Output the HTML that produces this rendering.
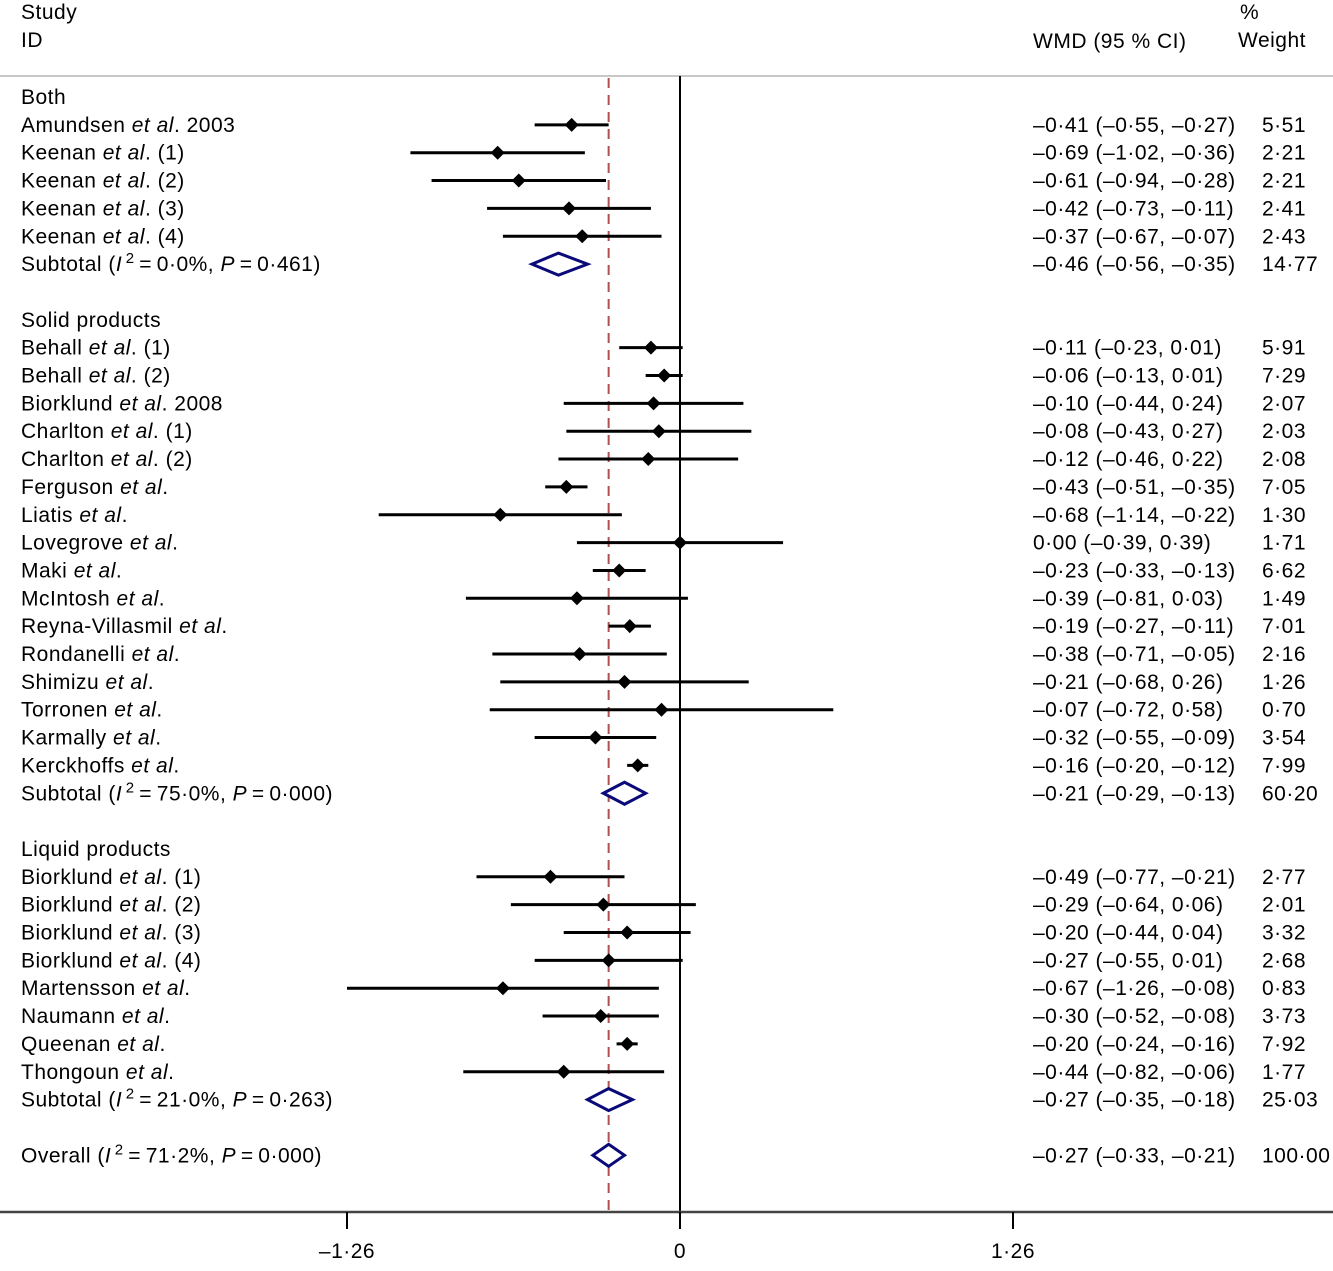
<!DOCTYPE html>
<html><head><meta charset="utf-8">
<style>
html,body{margin:0;padding:0;background:#fff;}
svg text{font-family:"Liberation Sans",Arial,sans-serif;font-size:21px;letter-spacing:0.5px;fill:#000;}
</style></head>
<body>
<svg id="chart" width="1333" height="1266" viewBox="0 0 1333 1266" xmlns="http://www.w3.org/2000/svg">
<text x="21" y="19">Study</text>
<text x="21" y="47">ID</text>
<text x="1033" y="48">WMD (95 % CI)</text>
<text x="1240" y="19">%</text>
<text x="1238" y="47">Weight</text>
<line x1="0" y1="76" x2="1333" y2="76" stroke="#c8c8c8" stroke-width="2"/>
<g id="plot"></g>
</svg>
<script>
const rowKinds = ['h','s','s','s','s','s','t','b','h','s','s','s','s','s','s','s','s','s','s','s','s','s','s','s','s','t','b','h','s','s','s','s','s','s','s','s','t','b','o'];
const labels = ['Both','Amundsen|2003','Keenan|(1)','Keenan|(2)','Keenan|(3)','Keenan|(4)','SUB|0·0%|0·461','',
'Solid products','Behall|(1)','Behall|(2)','Biorklund|2008','Charlton|(1)','Charlton|(2)','Ferguson|','Liatis|','Lovegrove|','Maki|','McIntosh|','Reyna-Villasmil|','Rondanelli|','Shimizu|','Torronen|','Karmally|','Kerckhoffs|','SUB|75·0%|0·000','',
'Liquid products','Biorklund|(1)','Biorklund|(2)','Biorklund|(3)','Biorklund|(4)','Martensson|','Naumann|','Queenan|','Thongoun|','SUB|21·0%|0·263','','OVR|71·2%|0·000'];
const estimates = [null,-0.41,-0.69,-0.61,-0.42,-0.37,-0.46,null,null,-0.11,-0.06,-0.10,-0.08,-0.12,-0.43,-0.68,0.00,-0.23,-0.39,-0.19,-0.38,-0.21,-0.07,-0.32,-0.16,-0.21,null,null,-0.49,-0.29,-0.20,-0.27,-0.67,-0.30,-0.20,-0.44,-0.27,null,-0.27];
const lowers = [null,-0.55,-1.02,-0.94,-0.73,-0.67,-0.56,null,null,-0.23,-0.13,-0.44,-0.43,-0.46,-0.51,-1.14,-0.39,-0.33,-0.81,-0.27,-0.71,-0.68,-0.72,-0.55,-0.20,-0.29,null,null,-0.77,-0.64,-0.44,-0.55,-1.26,-0.52,-0.24,-0.82,-0.35,null,-0.33];
const uppers = [null,-0.27,-0.36,-0.28,-0.11,-0.07,-0.35,null,null,0.01,0.01,0.24,0.27,0.22,-0.35,-0.22,0.39,-0.13,0.03,-0.11,-0.05,0.26,0.58,-0.09,-0.12,-0.13,null,null,-0.21,0.06,0.04,0.01,-0.08,-0.08,-0.16,-0.06,-0.18,null,-0.21];
const weights = [null,'5·51','2·21','2·21','2·41','2·43','14·77',null,null,'5·91','7·29','2·07','2·03','2·08','7·05','1·30','1·71','6·62','1·49','7·01','2·16','1·26','0·70','3·54','7·99','60·20',null,null,'2·77','2·01','3·32','2·68','0·83','3·73','7·92','1·77','25·03',null,'100·00'];
const tickValues = [-1.26, 0, 1.26];
const tickLabels = ['–1·26','0','1·26'];
const overallRef = -0.27;

const NS='http://www.w3.org/2000/svg';
const g=document.getElementById('plot');
const x = v => 680 + v*(333/1.26);
const y = i => 97 + i*27.85;
function mk(tag, attrs, parent){const e=document.createElementNS(NS,tag);for(const k in attrs)e.setAttribute(k,attrs[k]);(parent||g).appendChild(e);return e;}
function fmt(v){const s=Math.abs(v).toFixed(2).replace('.','·');return (v<0?'–':'')+s;}
function tspan(t,txt,italic,extra){const s=document.createElementNS(NS,'tspan');if(italic)s.setAttribute('font-style','italic');if(extra)for(const k in extra)s.setAttribute(k,extra[k]);s.textContent=txt;t.appendChild(s);return s;}

const zl=mk('line',{x1:x(0),y1:76,x2:x(0),y2:1212,stroke:'#000','stroke-width':2});


const dl=mk('line',{x1:x(overallRef),y1:78,x2:x(overallRef),y2:1212,stroke:'#b05050','stroke-width':2,'stroke-dasharray':'10 7'});


const ax=mk('line',{x1:0,y1:1212,x2:1333,y2:1212,stroke:'#444','stroke-width':2.5});


tickValues.forEach((v,i)=>{
  const tk=mk('line',{x1:x(v),y1:1212,x2:x(v),y2:1229,stroke:'#000','stroke-width':2});
  
  
  const tl=mk('text',{x:x(v),y:1258,'text-anchor':'middle'});
  tl.textContent=tickLabels[i];
  
  
});

rowKinds.forEach((k,i)=>{
  if(k==='b')return;
  const yy=y(i), by=yy+7;
  const lab=mk('text',{x:21,y:by,'xml:space':'preserve'});
  
  
  if(k==='h'){lab.textContent=labels[i];return;}
  if(k==='s'){
    const p=labels[i].split('|');
    tspan(lab,p[0]+' ');tspan(lab,'et al',true);tspan(lab,'.'+(p[1]?' '+p[1]:''));
  } else {
    const p=labels[i].split('|');
    tspan(lab,(k==='t'?'Subtotal':'Overall')+' (');tspan(lab,'I',true);
    tspan(lab,'\u20092',false,{'font-size':'15','dy':'-8'});
    tspan(lab,'\u2009=\u2009'+p[1]+', ',false,{'dy':'8'});tspan(lab,'P',true);tspan(lab,'\u2009=\u2009'+p[2]+')');
  }
  const e=estimates[i],lo=lowers[i],hi=uppers[i];
  if(k==='s'){
    const ci=mk('line',{x1:x(lo),y1:yy,x2:x(hi),y2:yy,stroke:'#000','stroke-width':3});
    
    
    const cx=x(e);
    const pt=mk('polygon',{points:`${cx-7},${yy} ${cx},${yy-7} ${cx+7},${yy} ${cx},${yy+7}`,fill:'#000'});
    
    
  } else {
    const d=mk('polygon',{points:`${x(lo)},${yy} ${x(e)},${yy-11} ${x(hi)},${yy} ${x(e)},${yy+11}`,fill:'#fff',stroke:'#0a0a78','stroke-width':3});
    
    
  }
  const vt=mk('text',{x:1033,y:by,'xml:space':'preserve'});
  vt.textContent=(e===0?' ':'')+fmt(e)+' ('+fmt(lo)+', '+fmt(hi)+')';
  
  
  const wt=mk('text',{x:1262,y:by});
  wt.textContent=weights[i];
  
  
});
</script>
</body></html>
